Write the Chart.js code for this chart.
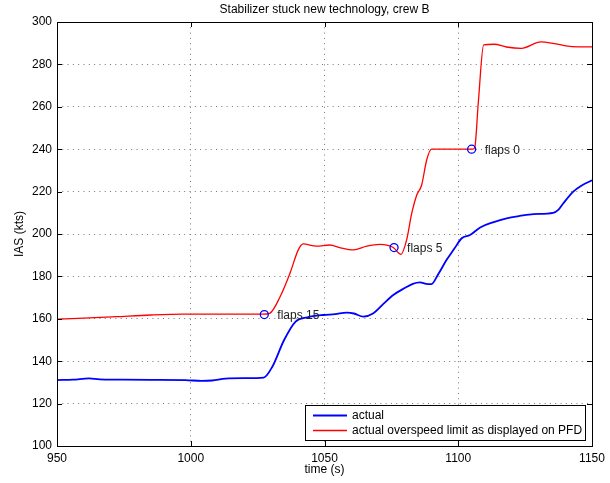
<!DOCTYPE html>
<html><head><meta charset="utf-8">
<script src="https://cdn.jsdelivr.net/npm/chart.js@4.4.0/dist/chart.umd.min.js"></script>
<style>html,body{margin:0;padding:0;background:#fff}#wrap{width:610px;height:483px;position:relative}</style>
</head><body><div id="wrap"><canvas id="c"></canvas></div>
<script>
const titleText = 'Stabilizer stuck new technology, crew B';
const xLabel = 'time (s)';
const yLabel = 'IAS (kts)';
const xTicks = [950, 1000, 1050, 1100, 1150];
const yTicks = [100, 120, 140, 160, 180, 200, 220, 240, 260, 280, 300];

const actualT = [950,956,962,966,972,985,998,1004,1008,1013,1020,1027.3,1030.5,1034.9,1039.2,1043.6,1049.5,1054,1058.3,1061,1064.5,1068.3,1072,1075.7,1080,1083,1085.7,1088,1090,1092.5,1095.6,1098.5,1101.3,1104.4,1108.2,1113,1118.1,1123,1128.1,1135.5,1137.5,1139.3,1143,1146,1150];
const actualV = [131.1,131.3,131.9,131.4,131.3,131.2,131.1,130.7,130.9,131.8,132,132.3,137.4,150,158.7,160.7,161.8,162.2,162.9,162.5,161,162.6,167,171.2,174.5,176.5,177.2,176.5,176.4,181,187.7,193,198,199.5,203.1,205.5,207.4,208.5,209.4,210,211.5,214.5,220,222.8,225.3];

const limitT = [950,960,972,985,997,1010,1027,1029.5,1033.4,1037.1,1040.2,1042,1047,1052,1056,1060.8,1065.8,1070.7,1074,1075.7,1078.6,1080.7,1082.6,1084.5,1086.3,1088.2,1090,1095,1100,1105.5,1106.2,1107.5,1109.5,1113.4,1118,1123.6,1130.9,1136,1142.5,1150];
const limitV = [159.8,160.3,161,161.8,162.2,162.2,162.2,162.6,170.4,181.5,192.5,195.3,194.3,194.8,193.5,192.5,194.3,195.1,194.5,193.6,190.4,197.2,209.7,218.4,223,234.9,240,240,240,240,241,262,289.2,289.5,288.2,287.6,290.6,289.8,288.4,288.3];

const flapsT = [1027.5, 1076, 1105];
const flapsV = [162, 193.6, 240];
const flapsLabels = ['flaps 15', 'flaps 5', 'flaps 0'];

const seriesNames = ['actual', 'actual overspeed limit as displayed on PFD'];
const seriesColors = ['#0000ff', '#ff0000'];

const FONT = '"Liberation Sans", Arial, Helvetica, sans-serif';

const toXY = (t, v) => t.map((x, i) => ({x: x, y: v[i]}));

const decor = {
  id: 'decor',
  afterDraw(chart) {
    const {ctx, chartArea: a, scales} = chart;
    const xs = scales.x, ys = scales.y;
    ctx.save();
    ctx.strokeStyle = '#000'; ctx.lineWidth = 1;
    ctx.strokeRect(Math.round(a.left) + 0.5, Math.round(a.top) + 0.5, Math.round(a.right - a.left), Math.round(a.bottom - a.top));
    ctx.beginPath();
    xTicks.forEach(t => {
      const px = Math.round(xs.getPixelForValue(t)) + 0.5;
      ctx.moveTo(px, a.bottom); ctx.lineTo(px, a.bottom - 5);
      ctx.moveTo(px, a.top); ctx.lineTo(px, a.top + 5);
    });
    yTicks.forEach(t => {
      const py = Math.round(ys.getPixelForValue(t)) + 0.5;
      ctx.moveTo(a.left, py); ctx.lineTo(a.left + 5, py);
      ctx.moveTo(a.right, py); ctx.lineTo(a.right - 5, py);
    });
    ctx.stroke();
    ctx.fillStyle = '#222';
    ctx.font = '12px ' + FONT;
    ctx.textAlign = 'left'; ctx.textBaseline = 'middle';
    flapsT.forEach((t, i) => {
      ctx.fillText(flapsLabels[i], xs.getPixelForValue(t) + 13, ys.getPixelForValue(flapsV[i]) + 1);
    });
    ctx.fillStyle = '#000';
    ctx.textAlign = 'center';
    ctx.fillText(titleText, (a.left + a.right) / 2, 10);
    ctx.fillText(xLabel, (a.left + a.right) / 2, 470);
    ctx.save();
    ctx.translate(20, (a.top + a.bottom) / 2);
    ctx.rotate(-Math.PI / 2);
    ctx.fillText(yLabel, 0, 0);
    ctx.restore();
    const lx = 305, ly = 405, lw = 280, lh = 35;
    ctx.fillStyle = '#fff';
    ctx.fillRect(lx, ly, lw, lh);
    ctx.strokeStyle = '#000'; ctx.lineWidth = 1;
    ctx.strokeRect(lx + 0.5, ly + 0.5, lw, lh);
    seriesNames.forEach((n, i) => {
      const yy = ly + 10.5 + i * 15;
      ctx.strokeStyle = seriesColors[i]; ctx.lineWidth = i === 0 ? 1.8 : 1.3;
      ctx.beginPath(); ctx.moveTo(lx + 8, yy); ctx.lineTo(lx + 42, yy); ctx.stroke();
      ctx.fillStyle = '#000'; ctx.textAlign = 'left';
      ctx.fillText(n, lx + 47, yy);
    });
    ctx.restore();
  }
};

new Chart(document.getElementById('c'), {
  type: 'line',
  data: {
    datasets: [
      {label: seriesNames[0], data: toXY(actualT, actualV), borderColor: seriesColors[0], borderWidth: 1.8, pointRadius: 0, cubicInterpolationMode: 'monotone', order: 2},
      {label: seriesNames[1], data: toXY(limitT, limitV), borderColor: seriesColors[1], borderWidth: 1.3, pointRadius: 0, cubicInterpolationMode: 'monotone', order: 1},
      {label: 'flaps', type: 'scatter', data: toXY(flapsT, flapsV), showLine: false, pointRadius: 4, pointBorderWidth: 1.3, pointBorderColor: '#0000ff', pointBackgroundColor: 'rgba(0,0,0,0)', order: 0}
    ]
  },
  options: {
    responsive: true, maintainAspectRatio: false, animation: false,
    layout: {padding: {left: 0, top: 22, right: 18, bottom: 0}},
    plugins: {legend: {display: false}, title: {display: false}, tooltip: {enabled: false}},
    scales: {
      x: {
        type: 'linear', min: 950, max: 1150,
        afterFit: s => { s.height = 37; },
        afterBuildTicks: s => { s.ticks = xTicks.map(v => ({value: v})); },
        ticks: {color: '#000', font: {size: 12, family: FONT}, padding: 5, maxRotation: 0, autoSkip: false, callback: v => String(v)},
        grid: {color: '#777', lineWidth: 1, drawTicks: false},
        border: {display: false, dash: [1, 4.3]}
      },
      y: {
        type: 'linear', min: 100, max: 300,
        afterFit: s => { s.width = 57; },
        afterBuildTicks: s => { s.ticks = yTicks.map(v => ({value: v})); },
        ticks: {color: '#000', font: {size: 12, family: FONT}, padding: 5, autoSkip: false, callback: v => String(v)},
        grid: {color: '#777', lineWidth: 1, drawTicks: false},
        border: {display: false, dash: [1, 4.3]}
      }
    }
  },
  plugins: [decor]
});
</script></body></html>
